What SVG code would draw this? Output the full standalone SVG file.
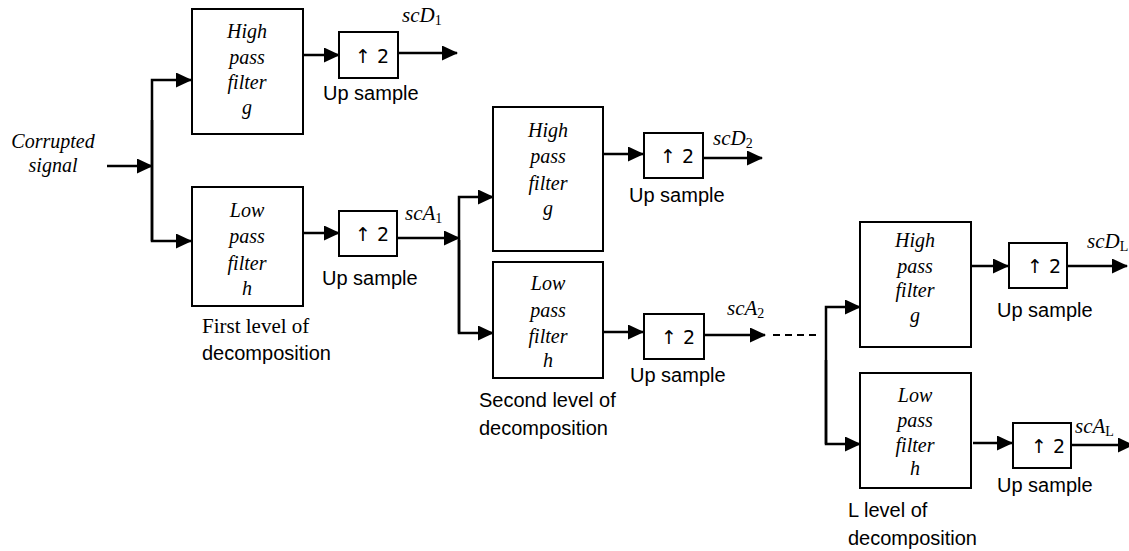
<svg xmlns="http://www.w3.org/2000/svg" width="1129" height="551" viewBox="0 0 1129 551">
<style>
.box{fill:#fff;stroke:#000;stroke-width:2}
.ln{fill:none;stroke:#000;stroke-width:2.5}
.dash{fill:none;stroke:#000;stroke-width:2;stroke-dasharray:7,5}
.it{font-family:"Liberation Serif",serif;font-style:italic;font-size:20px;fill:#000;text-anchor:middle}
.rm{font-family:"Liberation Serif",serif;font-size:21px;fill:#000}
.sn{font-family:"Liberation Sans",sans-serif;font-size:20px;fill:#000}
.up{font-family:"DejaVu Sans","Liberation Sans",sans-serif;font-size:19px;fill:#000;text-anchor:middle}
.mt{font-family:"Liberation Serif",serif;font-style:italic;font-size:21px;fill:#000}
.sub{font-style:normal;font-size:14px}
</style>
<defs>
<marker id="ah" markerUnits="userSpaceOnUse" markerWidth="16" markerHeight="15" refX="15" refY="7.5" orient="auto">
<path d="M0,0 L16,7.5 L0,15 Z" fill="#000"/>
</marker>
</defs>

<g id="input">
<text class="it" x="53" y="148">Corrupted</text>
<text class="it" x="53" y="172">signal</text>
</g>

<g id="connectors">
<path class="ln" d="M107,166 H152" marker-end="url(#ah)"/>
<path class="ln" d="M152,241 V80 H191" marker-end="url(#ah)"/>
<path class="ln" d="M152,120 V241 H191" marker-end="url(#ah)"/>
<path class="ln" d="M304,55 H339" marker-end="url(#ah)"/>
<path class="ln" d="M398,53 H457" marker-end="url(#ah)"/>
<path class="ln" d="M304,233 H339" marker-end="url(#ah)"/>
<path class="ln" d="M397,238 H459" marker-end="url(#ah)"/>
<path class="ln" d="M459,333 V197 H493" marker-end="url(#ah)"/>
<path class="ln" d="M459,240 V333 H493" marker-end="url(#ah)"/>
<path class="ln" d="M603,154 H643" marker-end="url(#ah)"/>
<path class="ln" d="M703,158 H762" marker-end="url(#ah)"/>
<path class="ln" d="M603,332 H643" marker-end="url(#ah)"/>
<path class="ln" d="M704,335 H765" marker-end="url(#ah)"/>
<path class="dash" d="M773,335 H820"/>
<path class="ln" d="M826,444 V307 H860" marker-end="url(#ah)"/>
<path class="ln" d="M826,360 V444 H860" marker-end="url(#ah)"/>
<path class="ln" d="M971,266 H1008" marker-end="url(#ah)"/>
<path class="ln" d="M1067,266 H1127" marker-end="url(#ah)"/>
<path class="ln" d="M973,443 H1012" marker-end="url(#ah)"/>
<path class="ln" d="M1071,445 H1133" marker-end="url(#ah)"/>
</g>

<g id="hp1">
<rect class="box" x="192" y="9" width="111" height="125"/>
<text class="it" x="247" y="38">High</text>
<text class="it" x="247" y="64">pass</text>
<text class="it" x="247" y="89">filter</text>
<text class="it" x="247" y="114">g</text>
</g>
<g id="up1">
<rect class="box" x="339" y="32" width="59" height="46"/>
<text class="up" x="372" y="63">↑ 2</text>
<text class="sn" x="323" y="100">Up sample</text>
<text class="mt" x="402" y="22">scD<tspan class="sub" dy="3">1</tspan></text>
</g>
<g id="lp1">
<rect class="box" x="192" y="187" width="111" height="119"/>
<text class="it" x="247" y="217">Low</text>
<text class="it" x="247" y="243">pass</text>
<text class="it" x="247" y="270">filter</text>
<text class="it" x="247" y="295">h</text>
<text class="rm" x="202" y="333">First level of</text>
<text class="sn" x="202" y="360">decomposition</text>
</g>
<g id="up2">
<rect class="box" x="339" y="211" width="58" height="45"/>
<text class="up" x="372" y="241">↑ 2</text>
<text class="sn" x="322" y="285">Up sample</text>
<text class="mt" x="405" y="220">scA<tspan class="sub" dy="3">1</tspan></text>
</g>

<g id="hp2">
<rect class="box" x="493" y="107" width="110" height="144"/>
<text class="it" x="548" y="137">High</text>
<text class="it" x="548" y="163">pass</text>
<text class="it" x="548" y="190">filter</text>
<text class="it" x="548" y="215">g</text>
</g>
<g id="up3">
<rect class="box" x="644" y="133" width="59" height="45"/>
<text class="up" x="677" y="163">↑ 2</text>
<text class="sn" x="629" y="202">Up sample</text>
<text class="mt" x="713" y="145">scD<tspan class="sub" dy="3">2</tspan></text>
</g>
<g id="lp2">
<rect class="box" x="493" y="262" width="110" height="116"/>
<text class="it" x="548" y="290">Low</text>
<text class="it" x="548" y="317">pass</text>
<text class="it" x="548" y="343">filter</text>
<text class="it" x="548" y="367">h</text>
<text class="sn" x="479" y="407">Second level of</text>
<text class="sn" x="479" y="435">decomposition</text>
</g>
<g id="up4">
<rect class="box" x="644" y="314" width="60" height="45"/>
<text class="up" x="678" y="344">↑ 2</text>
<text class="sn" x="630" y="382">Up sample</text>
<text class="mt" x="727" y="315">scA<tspan class="sub" dy="3">2</tspan></text>
</g>

<g id="hp3">
<rect class="box" x="860" y="222" width="111" height="125"/>
<text class="it" x="915" y="247">High</text>
<text class="it" x="915" y="273">pass</text>
<text class="it" x="915" y="297">filter</text>
<text class="it" x="915" y="322">g</text>
</g>
<g id="up5">
<rect class="box" x="1009" y="243" width="58" height="45"/>
<text class="up" x="1044" y="273">↑ 2</text>
<text class="sn" x="997" y="317">Up sample</text>
<text class="mt" x="1087" y="248">scD<tspan class="sub" dy="3">L</tspan></text>
</g>
<g id="lp3">
<rect class="box" x="860" y="373" width="111" height="115"/>
<text class="it" x="915" y="402">Low</text>
<text class="it" x="915" y="427">pass</text>
<text class="it" x="915" y="452">filter</text>
<text class="it" x="915" y="475">h</text>
<text class="sn" x="848" y="517">L level of</text>
<text class="sn" x="848" y="545">decomposition</text>
</g>
<g id="up6">
<rect class="box" x="1013" y="423" width="58" height="45"/>
<text class="up" x="1048" y="453">↑ 2</text>
<text class="sn" x="997" y="492">Up sample</text>
<text class="mt" x="1075" y="433">scA<tspan class="sub" dy="3">L</tspan></text>
</g>
</svg>
